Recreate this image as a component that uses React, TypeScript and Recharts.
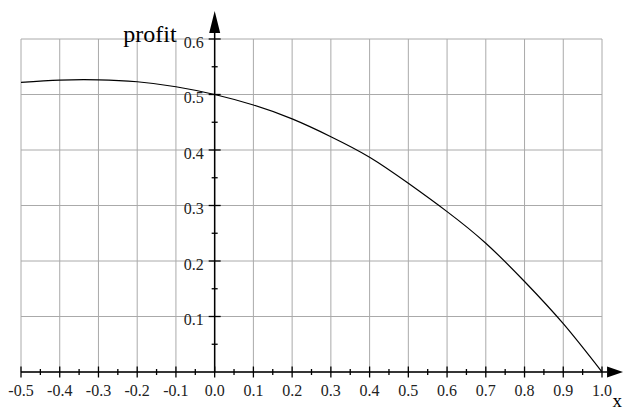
import React from "react";
import {
  LineChart,
  Line,
  XAxis,
  YAxis,
  CartesianGrid,
  ReferenceLine,
  ReferenceDot,
} from "recharts";

// ---- data ----
const xValues = [-0.5, -0.4, -0.3, -0.2, -0.1, 0.0, 0.1, 0.2, 0.3, 0.4, 0.5, 0.6, 0.7, 0.8, 0.9, 1.0];
const profitValues = [0.522, 0.526, 0.5265, 0.523, 0.514, 0.5, 0.481, 0.456, 0.424, 0.387, 0.34, 0.289, 0.232, 0.163, 0.087, 0.0];

const xGridTicks = [-0.5, -0.4, -0.3, -0.2, -0.1, 0.0, 0.1, 0.2, 0.3, 0.4, 0.5, 0.6, 0.7, 0.8, 0.9, 1.0];
const yGridTicks = [0, 0.1, 0.2, 0.3, 0.4, 0.5, 0.6];
const xAxisTicks = [
  -0.5, -0.45, -0.4, -0.35, -0.3, -0.25, -0.2, -0.15, -0.1, -0.05, 0.0, 0.05, 0.1, 0.15, 0.2, 0.25,
  0.3, 0.35, 0.4, 0.45, 0.5, 0.55, 0.6, 0.65, 0.7, 0.75, 0.8, 0.85, 0.9, 0.95, 1.0,
];
const xTickLabels = ["-0.5", "-0.4", "-0.3", "-0.2", "-0.1", "0.0", "0.1", "0.2", "0.3", "0.4", "0.5", "0.6", "0.7", "0.8", "0.9", "1.0"];
const yAxisTicks = [0.05, 0.1, 0.15, 0.2, 0.25, 0.3, 0.35, 0.4, 0.45, 0.5, 0.55, 0.6];
const yTickLabels = ["0.1", "0.2", "0.3", "0.4", "0.5", "0.6"];

const xDomain: [number, number] = [-0.5, 1.0];
const yDomain: [number, number] = [0, 0.6];
const xArrowBase = 1.013;
const yArrowBase = 0.611;

const data = xValues.map((x, i) => ({ x, profit: profitValues[i] }));

const FONT = "Liberation Serif, Times New Roman, serif";

function isMajor(v: number) {
  return Math.abs(Math.round(v * 10) - v * 10) < 1e-6;
}

function xLabelFor(v: number) {
  const idx = xGridTicks.findIndex((t) => Math.abs(t - v) < 1e-6);
  return idx >= 0 ? xTickLabels[idx] : "";
}
function yLabelFor(v: number) {
  const idx = yGridTicks.findIndex((t) => Math.abs(t - v) < 1e-6);
  return idx > 0 ? yTickLabels[idx - 1] : "";
}

const XTickShape = (v: number) => (props: any) => {
  const { cx, cy } = props;
  const major = isMajor(v);
  const h = major ? 5.5 : 3;
  return (
    <g>
      <line x1={cx} x2={cx} y1={cy - h} y2={cy + h} stroke="#000" strokeWidth={1.3} />
      {major && (
        <text x={cx} y={cy + 24} textAnchor="middle" style={{ fontFamily: FONT, fontSize: 16 }} fill="#222">
          {xLabelFor(v)}
        </text>
      )}
    </g>
  );
};

const YTickShape = (v: number) => (props: any) => {
  const { cx, cy } = props;
  const major = isMajor(v);
  const h = major ? 6 : 3;
  return (
    <g>
      <line x1={cx - h} x2={cx + h} y1={cy} y2={cy} stroke="#000" strokeWidth={1.3} />
      {major && (
        <text x={cx - 11} y={cy + 8.5} textAnchor="end" style={{ fontFamily: FONT, fontSize: 16 }} fill="#222">
          {yLabelFor(v)}
        </text>
      )}
    </g>
  );
};

const YArrow = (props: any) => {
  const { cx, cy } = props;
  return (
    <g>
      <polygon points={`${cx - 5.5},${cy} ${cx + 5.5},${cy} ${cx},${cy - 22}`} fill="#000" />
    </g>
  );
};

const XArrow = (props: any) => {
  const { cx, cy } = props;
  return (
    <g>
      <polygon points={`${cx},${cy - 5.5} ${cx},${cy + 5.5} ${cx + 16},${cy}`} fill="#000" />
    </g>
  );
};

const ProfitLabel = (props: any) => {
  const { cx, cy } = props;
  return (
    <text x={cx - 38} y={cy + 3} textAnchor="end" style={{ fontFamily: FONT, fontSize: 24 }} fill="#000">
      profit
    </text>
  );
};

const XLabel = (props: any) => {
  const { cx, cy } = props;
  return (
    <text x={cx + 20} y={cy + 35} textAnchor="end" style={{ fontFamily: FONT, fontSize: 19 }} fill="#000">
      x
    </text>
  );
};

export default function App() {
  return (
    <div style={{ position: "absolute", left: 0, top: 0, width: 623, height: 412, background: "#fff" }}>
      <LineChart width={623} height={412} data={data} margin={{ top: 39, right: 21, bottom: 40, left: 21 }}>
        <XAxis dataKey="x" type="number" domain={xDomain} ticks={xGridTicks} hide allowDataOverflow />
        <YAxis type="number" domain={yDomain} ticks={yGridTicks} hide allowDataOverflow />
        <CartesianGrid stroke="#aaaaaa" strokeWidth={1} />
        <Line
          type="natural"
          dataKey="profit"
          stroke="#000"
          strokeWidth={1.2}
          dot={false}
          isAnimationActive={false}
        />
        <ReferenceLine
          segment={[{ x: xDomain[0], y: 0 }, { x: xArrowBase, y: 0 }]}
          stroke="#000"
          strokeWidth={1.5}
          ifOverflow="visible"
        />
        <ReferenceLine
          segment={[{ x: 0, y: 0 }, { x: 0, y: yArrowBase }]}
          stroke="#000"
          strokeWidth={1.5}
          ifOverflow="visible"
        />
        {xAxisTicks.map((v) => (
          <ReferenceDot key={"xt" + v} x={v} y={0} ifOverflow="visible" shape={XTickShape(v)} />
        ))}
        {yAxisTicks.map((v) => (
          <ReferenceDot key={"yt" + v} x={0} y={v} ifOverflow="visible" shape={YTickShape(v)} />
        ))}
        <ReferenceDot x={0} y={yArrowBase} ifOverflow="visible" shape={YArrow} />
        <ReferenceDot x={xArrowBase} y={0} ifOverflow="visible" shape={XArrow} />
        <ReferenceDot x={0} y={0.6} ifOverflow="visible" shape={ProfitLabel} />
        <ReferenceDot x={1.0} y={0} ifOverflow="visible" shape={XLabel} />
      </LineChart>
    </div>
  );
}
